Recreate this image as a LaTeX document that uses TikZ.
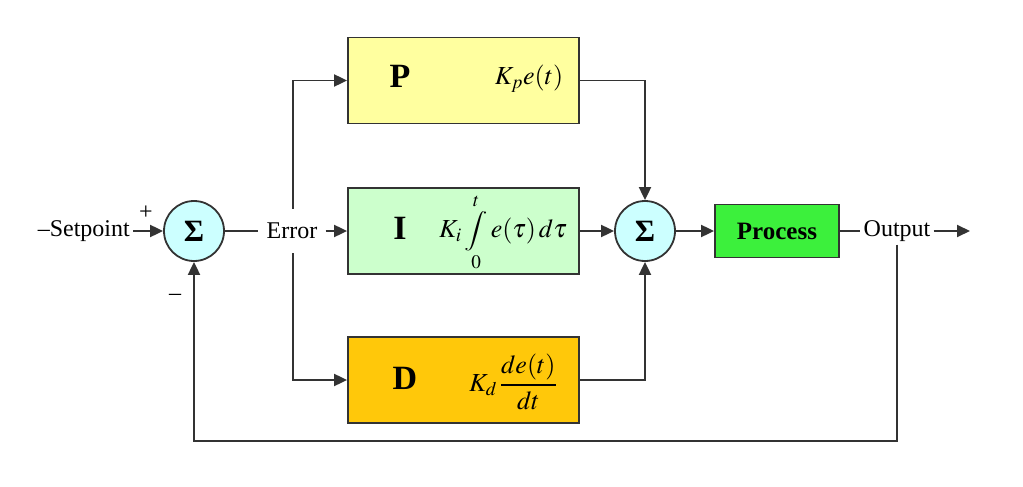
\documentclass[tikz,border=0pt]{standalone}
\usepackage{mathptmx}
\usepackage{fontspec}
\setmainfont{Liberation Serif}
\usetikzlibrary{arrows.meta}
\definecolor{pcol}{HTML}{FFFF9F}
\definecolor{icol}{HTML}{CCFFCC}
\definecolor{dcol}{HTML}{FFC80A}
\definecolor{proccol}{HTML}{3CF03C}
\definecolor{sumcol}{HTML}{CCFFFF}
\definecolor{linecol}{HTML}{333333}
\newcommand{\shortint}{\mathop{\vcenter{\hbox{\scalebox{1}[0.76]{$\displaystyle\int$}}}}}
\begin{document}
\begin{tikzpicture}[x=1pt,y=-1pt,
  wire/.style={draw=linecol, line width=1.9pt},
  arr/.style={wire, -{Triangle[length=13pt,width=12pt]}},
  block/.style={draw=linecol, line width=1.8pt, rectangle, minimum width=231pt, minimum height=86pt, inner sep=0pt},
  sumnode/.style={circle, draw=linecol, fill=sumcol, line width=1.8pt, minimum size=60pt, inner sep=0pt, font=\fontsize{31}{36}\selectfont\bfseries},
  lbl/.style={font=\fontsize{24}{28}\selectfont, inner sep=3pt},
  big/.style={font=\fontsize{34}{38}\selectfont\bfseries, inner sep=0pt},
  fml/.style={font=\fontsize{26}{30}\selectfont, inner sep=0pt}
]
\useasboundingbox (0,0) rectangle (1023,487);
% summing junctions
\node[sumnode] (S1) at (194,231) {Σ};
\node[sumnode] (S2) at (645,231) {Σ};
% blocks
\node[block, fill=pcol] (P) at (463.5,80.5) {};
\node[block, fill=icol] (I) at (463.5,231) {};
\node[block, fill=dcol] (D) at (463.5,380) {};
\node[draw=linecol, line width=1.8pt, fill=proccol, minimum width=124pt, minimum height=53pt, inner sep=0pt,
      font=\fontsize{25}{30}\selectfont\bfseries] (Proc) at (777,231) {Process};
% block contents
\node[big] (Pl) at (400,76) {P};
\node[fml] (Pf) at (529,79) {$K_p e(t)$};
\node[big] (Il) at (400,228) {I};
\node[fml] (If) at (503,232) {$\displaystyle K_i\shortint\limits_{0}^{t} e(\tau)\,d\tau$};
\node[big] (Dl) at (405,378) {D};
\node[fml] (Df) at (513,382) {$\displaystyle K_d\,\frac{de(t)}{dt}$};
% text labels
\node[lbl, anchor=east] (SP) at (133,231) {–Setpoint};
\node[lbl] (plus) at (146,213) {+};
\node[lbl] (minus) at (175,297) {–};
\node[lbl, inner xsep=8pt, inner ysep=14pt] (Err) at (292,231) {Error};
\node[lbl] (Out) at (897,231) {Output};
% coordinates
\coordinate (ja) at (293,80.5);
\coordinate (outend) at (970,231);
\coordinate (fb) at (897,441);
% connectors
\draw[arr] (SP.east) -- (S1.west);
\draw[wire] (S1.east) -- (Err.west);
\draw[arr] (Err.east) -- (I.west);
\draw[arr] (Err.north -| ja) |- (P.west);
\draw[arr] (Err.south -| ja) |- (D.west);
\draw[arr] (P.east) -| (S2.north);
\draw[arr] (I.east) -- (S2.west);
\draw[arr] (D.east) -| (S2.south);
\draw[arr] (S2.east) -- (Proc.west);
\draw[wire] (Proc.east) -- (Out.west);
\draw[arr] (Out.east) -- (outend);
\draw[arr] (Out.south) |- (fb) -| (S1.south);
\end{tikzpicture}
\end{document}
